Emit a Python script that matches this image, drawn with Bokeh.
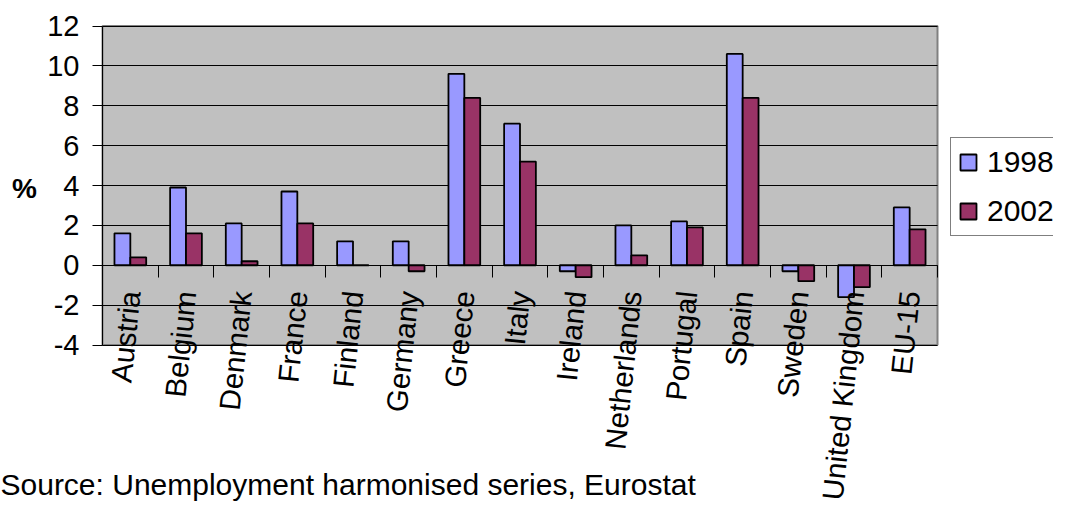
import numpy as np
from bokeh.plotting import figure
from bokeh.models import (Range1d, FixedTicker, ColumnDataSource, LabelSet, Label,
                          Legend, LegendItem)
from bokeh.core.properties import value
from bokeh.embed import file_html
from bokeh.resources import INLINE

countries = ["Austria", "Belgium", "Denmark", "France", "Finland", "Germany", "Greece",
             "Italy", "Ireland", "Netherlands", "Portugal", "Spain", "Sweden",
             "United Kingdom", "EU-15"]
v1998 = [1.6, 3.9, 2.1, 3.7, 1.2, 1.2, 9.6, 7.1, -0.3, 2.0, 2.2, 10.6, -0.3, -1.6, 2.9]
v2002 = [0.4, 1.6, 0.2, 2.1, 0.0, -0.3, 8.4, 5.2, -0.6, 0.5, 1.9, 8.4, -0.8, -1.1, 1.8]
yticks = [-4, -2, 0, 2, 4, 6, 8, 10, 12]
series_names = ["1998", "2002"]
source_text = "Source: Unemployment harmonised series, Eurostat"

# ---- layout (pixels) ----
W, H = 1053, 506
PL, PR, PT, PB = 102, 937, 25.5, 344.5   # plot-area box on the canvas
n = len(countries)
ymin, ymax = yticks[0], yticks[-1]
ux = (PR - PL) / n
uy = (PB - PT) / (ymax - ymin)
x_range = Range1d(-PL / ux, n + (W - PR) / ux)
y_range = Range1d(ymin - (H - PB) / uy, ymax + PT / uy)

xc = np.arange(n) + 0.5
bw = 0.285
src = ColumnDataSource(dict(x1=xc - bw / 2, x2=xc + bw / 2, y1=v1998, y2=v2002,
                            xc=xc, name=countries))

p = figure(width=W, height=H, output_backend="svg", toolbar_location=None,
           x_range=x_range, y_range=y_range, min_border=0)
p.background_fill_color = "white"
p.border_fill_color = "white"
p.outline_line_color = None

# plot area background
p.quad(left=0, right=n, bottom=ymin, top=ymax, fill_color="#C0C0C0",
       line_color=None, level="image")

p.xgrid.visible = False
p.ygrid.ticker = FixedTicker(ticks=yticks)
p.ygrid.grid_line_color = "black"
p.ygrid.grid_line_width = 1
p.ygrid.cross_bounds = (0, n)

# plot area border
p.quad(left=0, right=n, bottom=ymin, top=ymax, fill_color=None,
       line_color="#808080", line_width=2, level="underlay")

# y axis
ya = p.yaxis[0]
ya.fixed_location = 0
ya.bounds = (ymin, ymax)
ya.ticker = FixedTicker(ticks=yticks)
ya.axis_line_color = "black"
ya.axis_line_width = 1
ya.major_tick_line_color = "black"
ya.major_tick_out = 10
ya.major_tick_in = 0
ya.minor_tick_line_color = None
ya.major_label_standoff = 13
ya.major_label_overrides = {t: str(t) for t in yticks}
ya.major_label_text_font = "Liberation Sans"
ya.major_label_text_font_size = "29px"
ya.major_label_text_color = "black"

p.add_layout(Label(x=24, y=H - 188, x_units="screen", y_units="screen", text="%",
                   text_align="center", text_baseline="middle",
                   text_font="Liberation Sans", text_font_style="bold",
                   text_font_size="28px", text_color="black"))

# x axis on the zero line, ticks at category boundaries
xa = p.xaxis[0]
xa.fixed_location = 0
xa.bounds = (0, n)
xa.ticker = FixedTicker(ticks=list(range(1, n + 1)))
xa.axis_line_color = "black"
xa.axis_line_width = 1.2
xa.major_tick_line_color = "black"
xa.major_tick_out = 12
xa.major_tick_in = 0
xa.minor_tick_line_color = None
xa.major_label_overrides = {i: "" for i in range(1, n + 1)}
xa.major_label_text_font_size = "0px"

r1 = p.vbar(x="x1", top="y1", bottom=0, width=bw, source=src,
            fill_color="#9999FF", line_color="black", line_width=1.8)
r2 = p.vbar(x="x2", top="y2", bottom=0, width=bw, source=src,
            fill_color="#993366", line_color="black", line_width=1.8)

labels = LabelSet(x="xc", y=-1.3, text="name", source=src, angle=84, angle_units="deg",
                  text_align="right", text_baseline="middle",
                  text_font=value("Liberation Sans"), text_font_size="29.5px",
                  text_color="black")
p.add_layout(labels)

legend = Legend(items=[LegendItem(label=series_names[0], renderers=[r1]),
                       LegendItem(label=series_names[1], renderers=[r2])],
                location=(950, H - 236), orientation="vertical",
                glyph_width=20, glyph_height=20, label_height=30, label_standoff=9,
                spacing=15, padding=7, margin=0,
                label_text_font="Liberation Sans", label_text_font_size="30px",
                label_text_color="black",
                border_line_color="black", border_line_width=1,
                background_fill_color="white", background_fill_alpha=1)
p.add_layout(legend)

p.add_layout(Label(x=0, y=6, x_units="screen", y_units="screen", text=source_text,
                   text_font="Liberation Sans", text_font_size="30px",
                   text_baseline="bottom", text_align="left", text_color="black"))

open("out.html", "w").write(file_html(p, INLINE))
